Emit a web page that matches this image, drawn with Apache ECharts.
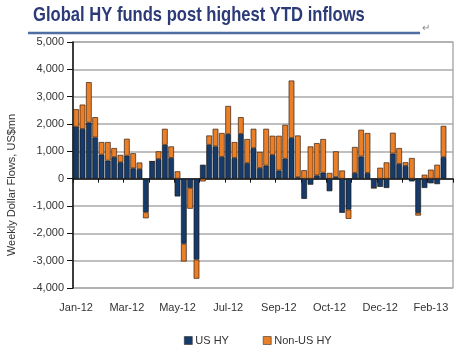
<!DOCTYPE html>
<html>
<head>
<meta charset="utf-8">
<script src="https://cdn.jsdelivr.net/npm/echarts@6/dist/echarts.min.js"></script>
<style>html,body{margin:0;padding:0;background:#fff;}#c{width:461px;height:355px;}</style>
</head>
<body>
<div id="c"></div>
<script>
var titleText = 'Global HY funds post highest YTD inflows';
var yAxisName = 'Weekly Dollar Flows, US$mn';
var seriesNames = ['US HY', 'Non-US HY'];
var tickLabels = ['Jan-12', 'Mar-12', 'May-12', 'Jul-12', 'Sep-12', 'Oct-12', 'Dec-12', 'Feb-13'];
var usHY = [1900, 1820, 2050, 1510, 880, 660, 790, 600, 840, 380, 350, -1230, 630, 720, 1240, 760, -650, -2380, -340, -2960,
  510, 1240, 1180, 800, 1630, 760, 1640, 570, 1120, 390, 480, 870, 300, 730, 1490, 50, -740, -220, 120, 220,
  -460, 60, -1250, -1130, 210, 810, 210, -340, -300, -340, 920, 540, 470, -100, -1250, -340, -170, -200, 790, null];
var nonUsHY = [640, 890, 1480, 740, 460, 680, 330, 270, 620, 550, 240, -220, 0, 280, 585, 420, 270, -650, -760, -700,
  -100, 340, 645, 870, 1030, 580, 610, 880, 705, 585, 1345, 700, 1270, 1240, 2100, 1530, 310, 1180, 1180, 1230,
  210, 940, 300, -340, 950, 980, 1460, 0, 400, 595, 760, 580, 130, 755, -100, 145, 330, 510, 1140, null];

var labelEvery = 8;
var categories = usHY.map(function (v, i) { return 'W' + (i + 1); });
var font = "'Liberation Sans', Arial, sans-serif";

var chart = echarts.init(document.getElementById('c'));
chart.setOption({
  animation: false,
  textStyle: { fontFamily: font },
  graphic: [
    {
      type: 'text', x: 33, y: 5, scaleX: 0.79, scaleY: 1,
      style: { text: titleText, fill: '#2c3b78', fontSize: 21, fontWeight: 'bold', fontFamily: font }
    },
    { type: 'line', shape: { x1: 28, y1: 33, x2: 420, y2: 33 }, style: { stroke: '#4e6ea4', lineWidth: 2.5 } },
    { type: 'text', x: 422, y: 23, style: { text: '\u21B5', fill: '#888', fontSize: 10 } },
    {
      type: 'text', x: 12, y: 185, rotation: Math.PI / 2,
      style: { text: yAxisName, fill: '#333', fontSize: 11, fontFamily: font, align: 'center', verticalAlign: 'middle' }
    }
  ],
  legend: {
    data: seriesNames, left: 179, top: 330, icon: 'rect', itemWidth: 8, itemHeight: 8, itemGap: 34,
    textStyle: { fontSize: 11, color: '#333', fontFamily: font, padding: [0, 0, 0, -2] },
    itemStyle: { borderColor: '#333', borderWidth: 0.6 }
  },
  grid: { left: 73, right: 8, top: 42, bottom: 67, show: true, borderColor: '#999', borderWidth: 1.2 },
  xAxis: [
    {
      type: 'category', data: categories, boundaryGap: true,
      axisLine: { onZero: true, lineStyle: { color: '#111', width: 1.5 } },
      axisTick: { show: true, interval: 3, length: 4, lineStyle: { color: '#111' } },
      axisLabel: { show: false }, splitLine: { show: false }
    },
    {
      type: 'category', data: categories, boundaryGap: true, position: 'bottom',
      axisLine: { show: false, onZero: false }, axisTick: { show: false },
      axisLabel: {
        show: true, interval: labelEvery - 1, margin: 14, fontSize: 11, color: '#333', fontFamily: font,
        formatter: function (v, i) { return tickLabels[i / labelEvery] || ''; }
      }
    }
  ],
  yAxis: {
    type: 'value', min: -4000, max: 5000, interval: 1000,
    axisLine: { show: true, lineStyle: { color: '#111', width: 1.5 } },
    axisTick: { show: true, length: 6, lineStyle: { color: '#111' } },
    axisLabel: {
      fontSize: 11, color: '#333', margin: 9, fontFamily: font,
      formatter: function (v) { return v.toLocaleString('en-US'); }
    },
    splitLine: { lineStyle: { color: '#aaa', width: 1.5 } }
  },
  series: [
    {
      name: seriesNames[0], type: 'bar', stack: 'flows', data: usHY, barCategoryGap: '10%',
      itemStyle: { color: '#163a6a', borderColor: '#1a1a1a', borderWidth: 0.7 }
    },
    {
      name: seriesNames[1], type: 'bar', stack: 'flows', data: nonUsHY, barCategoryGap: '10%',
      itemStyle: { color: '#ea7f27', borderColor: '#3a2010', borderWidth: 0.7 }
    }
  ]
});
</script>
</body>
</html>
